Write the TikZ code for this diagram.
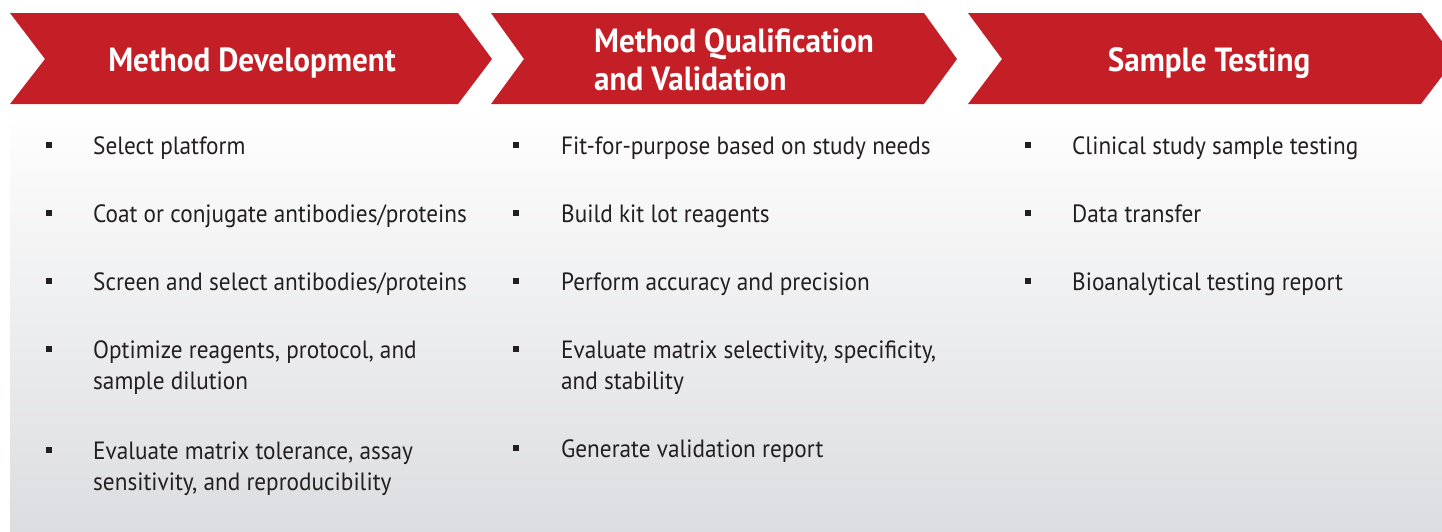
\documentclass[tikz,border=0pt]{standalone}
\usepackage{fontspec}
\setmainfont{PT Sans}[FakeStretch=0.93]
\definecolor{chevronred}{RGB}{196,31,38}
\definecolor{bodytext}{RGB}{35,31,32}
\definecolor{bggray}{RGB}{220,221,224}
\definecolor{bgmid}{RGB}{249,249,249}
\tikzset{
  chevron/.style={fill=chevronred, draw=none},
  heading/.style={text=white, font=\fontsize{33.5}{38}\selectfont\bfseries, inner sep=0pt, align=left},
  item/.style={text=bodytext, font=\fontsize{25}{31}\selectfont, inner sep=0pt, anchor=base west, align=left},
  bulletsq/.style={fill=bodytext, minimum size=6pt, inner sep=0pt},
}
\begin{document}
\begin{tikzpicture}[x=1pt, y=-1pt]
			\useasboundingbox (0,0) rectangle (1442,531);
			\clip (0,0) rectangle (1442,531);
			
			\shade [top color=white, middle color=bgmid, bottom color=bggray] (10,104) rectangle (1442,531);
			
			\fill [chevron] (10,13) -- (458,13) -- (492,59) -- (458,104) -- (10,104) -- (45,59) -- cycle;
			\fill [chevron] (491,13) -- (924,13) -- (957,59) -- (924,104) -- (491,104) -- (524,59) -- cycle;
			\fill [chevron] (968,13) -- (1421,13) -- (1455,59) -- (1421,104) -- (968,104) -- (1002,59) -- cycle;
			
			\node [heading, anchor=base] (hdev) at (252,71) {Method Development};
			\node [heading, anchor=base west] (hqual) at (594,52) {Method Qualification};
			\node [heading, anchor=base west] (hqual2) at (594,90) {and Validation};
			\node [heading, anchor=base] (htest) at (1209,71) {Sample Testing};
			
			% base of a two-line item is its last line
			\node [item] (md1) at (93,154) {Select platform};
			\node [item] (md2) at (93,222) {Coat or conjugate antibodies/proteins};
			\node [item] (md3) at (93,290) {Screen and select antibodies/proteins};
			\node [item] (md4) at (93,389) {Optimize reagents, protocol, and\\sample dilution};
			\node [item] (md5) at (93,490) {Evaluate matrix tolerance, assay\\sensitivity, and reproducibility};
			\node [bulletsq] (bmd1) at (49,145) {};
			\node [bulletsq] (bmd2) at (49,213) {};
			\node [bulletsq] (bmd3) at (49,281) {};
			\node [bulletsq] (bmd4) at (49,349) {};
			\node [bulletsq] (bmd5) at (49,450) {};
			
			\node [item] (mq1) at (561,154) {Fit-for-purpose based on study needs};
			\node [item] (mq2) at (561,222) {Build kit lot reagents};
			\node [item] (mq3) at (561,290) {Perform accuracy and precision};
			\node [item] (mq4) at (561,389) {Evaluate matrix selectivity, specificity,\\and stability};
			\node [item] (mq5) at (561,457) {Generate validation report};
			\node [bulletsq] (bmq1) at (516,145) {};
			\node [bulletsq] (bmq2) at (516,213) {};
			\node [bulletsq] (bmq3) at (516,281) {};
			\node [bulletsq] (bmq4) at (516,349) {};
			\node [bulletsq] (bmq5) at (516,448) {};
			
			\node [item] (st1) at (1072,154) {Clinical study sample testing};
			\node [item] (st2) at (1072,222) {Data transfer};
			\node [item] (st3) at (1072,290) {Bioanalytical testing report};
			\node [bulletsq] (bst1) at (1028,145) {};
			\node [bulletsq] (bst2) at (1028,213) {};
			\node [bulletsq] (bst3) at (1028,281) {};
		\end{tikzpicture}
\end{document}
